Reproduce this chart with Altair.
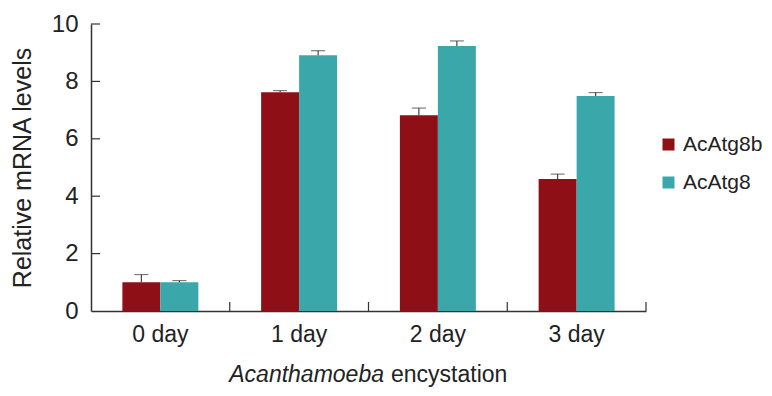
import altair as alt
import pandas as pd

days = ["0 day", "1 day", "2 day", "3 day"]
series = ["AcAtg8b", "AcAtg8"]
acatg8b = [1.0, 7.62, 6.82, 4.60]
acatg8b_err = [0.27, 0.06, 0.25, 0.17]
acatg8 = [1.0, 8.91, 9.23, 7.49]
acatg8_err = [0.06, 0.16, 0.18, 0.12]
y_ticks = [0, 2, 4, 6, 8, 10]
colors = ["#8e0f16", "#3aa8aa"]

rows = []
for i, d in enumerate(days):
    rows.append({"day": d, "series": series[0], "value": acatg8b[i], "top": acatg8b[i] + acatg8b_err[i]})
    rows.append({"day": d, "series": series[1], "value": acatg8[i], "top": acatg8[i] + acatg8_err[i]})
df = pd.DataFrame(rows)

FONT = "Liberation Sans"
W, H = 555, 287
AX = "#333333"

xscale = alt.Scale(domain=days, paddingInner=0, paddingOuter=0)
xoff = alt.XOffset("series:N", sort=series, scale=alt.Scale(domain=series, paddingOuter=0.826, paddingInner=0))
yscale = alt.Scale(domain=[0, 10], nice=False)

x_enc = alt.X("day:N", scale=xscale, sort=days,
              axis=alt.Axis(title=None, labelAngle=0, ticks=False, tickSize=0,
                            labelFontSize=23, labelFont=FONT, labelColor="#222222",
                            labelPadding=12, domainColor=AX, domainWidth=1.5))
y_enc = alt.Y("value:Q", scale=yscale,
              axis=alt.Axis(title="Relative mRNA levels", values=y_ticks, grid=False,
                            ticks=False, tickSize=0, labelFontSize=24, labelFont=FONT,
                            labelColor="#222222", labelPadding=13, titleFontSize=25,
                            titleFont=FONT, titleFontWeight="normal", titleColor="#222222",
                            titlePadding=16, domainColor=AX, domainWidth=1.5))

bars = alt.Chart(df).mark_bar().encode(
    x=x_enc, xOffset=xoff, y=y_enc,
    color=alt.Color("series:N", sort=series,
                    scale=alt.Scale(domain=series, range=colors),
                    legend=alt.Legend(title=None, orient="none", legendX=567, legendY=110,
                                      symbolType="square", symbolSize=144, symbolStrokeWidth=0,
                                      labelFontSize=21, labelFont=FONT, labelColor="#222222",
                                      labelOffset=4, rowPadding=16, padding=0, labelLimit=200)),
)

err_rule = alt.Chart(df).mark_rule(color="#444444", strokeWidth=1.2).encode(
    x=alt.X("day:N", scale=xscale, sort=days), xOffset=xoff,
    y=alt.Y("value:Q", scale=yscale), y2="top:Q",
)
err_cap = alt.Chart(df).mark_tick(color="#444444", thickness=1.2, size=14).encode(
    x=alt.X("day:N", scale=xscale, sort=days), xOffset=xoff,
    y=alt.Y("top:Q", scale=yscale),
)

ytick_df = pd.DataFrame({"t": y_ticks[1:]})
yticks = alt.Chart(ytick_df).mark_rule(color=AX, strokeWidth=1.2).encode(
    y=alt.Y("t:Q", scale=yscale), x=alt.value(0), x2=alt.value(9),
)

xb_df = pd.DataFrame({"day": days[1:]})
xticks_start = alt.Chart(xb_df).mark_rule(color=AX, strokeWidth=1.2).encode(
    x=alt.X("day:N", scale=xscale, sort=days, bandPosition=0),
    y=alt.value(H - 9), y2=alt.value(H),
)
xe_df = pd.DataFrame({"day": days[-1:]})
xticks_end = alt.Chart(xe_df).mark_rule(color=AX, strokeWidth=1.2).encode(
    x=alt.X("day:N", scale=xscale, sort=days, bandPosition=1),
    y=alt.value(H - 9), y2=alt.value(H),
)

title_df = pd.DataFrame({"a": ["Acanthamoeba"], "b": ["encystation"]})
t1 = alt.Chart(title_df).mark_text(font=FONT, fontSize=23, fontStyle="italic", align="right",
                                   baseline="alphabetic", color="#222222").encode(
    text="a:N", x=alt.value(293), y=alt.value(358))
t2 = alt.Chart(title_df).mark_text(font=FONT, fontSize=23, align="left",
                                   baseline="alphabetic", color="#222222").encode(
    text="b:N", x=alt.value(300), y=alt.value(358))

chart = alt.layer(bars, err_rule, err_cap, yticks, xticks_start, xticks_end, t1, t2).properties(
    width=W, height=H,
    autosize=alt.AutoSizeParams(type="none"),
    padding={"left": 83, "top": 16, "right": 118, "bottom": 76},
).configure_view(stroke=None)

chart.save("out.html", embed_options={"renderer": "svg", "actions": False})
